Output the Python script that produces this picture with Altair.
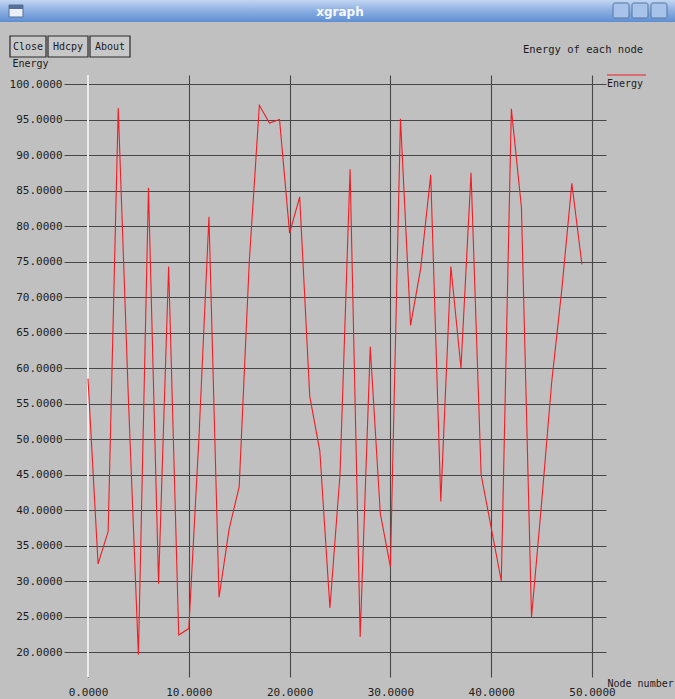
import altair as alt
import pandas as pd

# Residual energy of each node (node number 0..49)
nodes = list(range(50))
energy = [58.5, 32.4, 37.0, 96.6, 56.0, 19.6, 85.4, 29.6, 74.3, 22.4,
          23.3, 50.0, 81.3, 27.7, 37.3, 43.3, 75.0, 97.0, 94.5, 95.0,
          79.0, 84.1, 56.0, 48.3, 26.2, 45.0, 88.0, 22.1, 63.0, 39.5,
          32.0, 95.1, 66.0, 74.0, 87.2, 41.2, 74.3, 60.0, 87.5, 45.0,
          37.5, 30.0, 96.5, 82.6, 24.9, 41.0, 58.0, 71.0, 86.0, 74.6]

x_ticks = [0, 10, 20, 30, 40, 50]
y_ticks = [20, 25, 30, 35, 40, 45, 50, 55, 60, 65, 70, 75, 80, 85, 90, 95, 100]

series_name = "Energy"
chart_title = "Energy of each node"
x_title = "Node number"
y_title = "Energy"
window_title = "xgraph"
buttons = ["Close", "Hdcpy", "About"]

df = pd.DataFrame({"node": nodes, "energy": energy})
one = pd.DataFrame({"k": [0]})

MONO = "DejaVu Sans Mono"
BG = "#c0c0c0"
GRID = "#474747"
TXT = "#1c1c1c"

x_scale = alt.Scale(domain=[-2.381, 51.389], nice=False, zero=False)
y_scale = alt.Scale(domain=[16.479, 101.268], nice=False, zero=False)

x_axis = alt.Axis(values=x_ticks, format=".4f", grid=True, gridColor=GRID,
                  gridWidth=1.1, ticks=False, domain=False, labelFont=MONO,
                  labelFontSize=11, labelColor=TXT, labelPadding=9,
                  labelOverlap=False, labelFlush=False, title=x_title,
                  titleFont=MONO, titleFontSize=10, titleFontWeight="normal",
                  titleColor=TXT, titleX=543, titleY=9, titleAlign="left",
                  titleBaseline="alphabetic", titleAngle=0)
y_axis = alt.Axis(values=y_ticks, format=".4f", grid=True, gridColor=GRID,
                  gridWidth=1.1, ticks=False, domain=False, labelFont=MONO,
                  labelFontSize=11, labelColor=TXT, labelPadding=2,
                  labelOverlap=False, labelFlush=False, title=y_title,
                  titleFont=MONO, titleFontSize=10, titleFontWeight="normal",
                  titleColor=TXT, titleX=-52, titleY=-9, titleAlign="left",
                  titleBaseline="alphabetic", titleAngle=0)

# energy curve with the xgraph-style grid
line = alt.Chart(df).mark_line(color="#f21c24", strokeWidth=1.1).encode(
    x=alt.X("node:Q", scale=x_scale, axis=x_axis),
    y=alt.Y("energy:Q", scale=y_scale, axis=y_axis),
)

# highlighted zero axis
zero_line = alt.Chart(one).mark_rule(color="#ececec", strokeWidth=2).encode(
    x=alt.datum(0, scale=x_scale)
)

layers = [zero_line, line]

# window title bar
bar_fill = alt.LinearGradient(
    gradient="linear",
    stops=[alt.GradientStop(color="#c2d6f1", offset=0),
           alt.GradientStop(color="#8fb2e2", offset=0.45),
           alt.GradientStop(color="#5f8ed2", offset=1)],
    x1=0, x2=0, y1=0, y2=1)
layers.append(alt.Chart(one).mark_rect(color=bar_fill).encode(
    x=alt.value(-64), x2=alt.value(611), y=alt.value(-75), y2=alt.value(-53)))
layers.append(alt.Chart(one).mark_text(
    text=window_title, font="DejaVu Sans", fontSize=12, fontWeight="bold",
    color="#f4f8ff", align="center", baseline="middle").encode(
    x=alt.value(276), y=alt.value(-63)))
# window menu icon
layers.append(alt.Chart(one).mark_rect(color="#e9eef7", stroke="#54709a",
                                       strokeWidth=1).encode(
    x=alt.value(-55), x2=alt.value(-41), y=alt.value(-70), y2=alt.value(-58)))
layers.append(alt.Chart(one).mark_rect(color="#54709a").encode(
    x=alt.value(-55), x2=alt.value(-41), y=alt.value(-70), y2=alt.value(-66)))
# window control buttons
for left in [549, 568, 587]:
    layers.append(alt.Chart(one).mark_rect(
        color="#a8c3e9", stroke="#56779f", strokeWidth=1, cornerRadius=2).encode(
        x=alt.value(left), x2=alt.value(left + 16),
        y=alt.value(-72), y2=alt.value(-57)))

# command buttons
button_edges = [(-54, -18), (-16, 24), (26, 66)]
for label, (x0, x1) in zip(buttons, button_edges):
    layers.append(alt.Chart(one).mark_rect(
        color="#c8c8c8", stroke="#2a2a2a", strokeWidth=1.2).encode(
        x=alt.value(x0), x2=alt.value(x1), y=alt.value(-39), y2=alt.value(-18)))
    layers.append(alt.Chart(one).mark_text(
        text=label, font=MONO, fontSize=10, color=TXT, align="center",
        baseline="middle").encode(
        x=alt.value((x0 + x1) / 2), y=alt.value(-28)))

# plot title
layers.append(alt.Chart(one).mark_text(
    text=chart_title, font=MONO, fontSize=10.5, color=TXT, align="left",
    baseline="alphabetic").encode(x=alt.value(459), y=alt.value(-22)))

# legend entry
layers.append(alt.Chart(one).mark_rule(color="#f21c24", strokeWidth=1.2).encode(
    x=alt.value(543), x2=alt.value(582), y=alt.value(0)))
layers.append(alt.Chart(one).mark_text(
    text=series_name, font=MONO, fontSize=10, color=TXT, align="left",
    baseline="alphabetic").encode(x=alt.value(543), y=alt.value(12)))

chart = alt.layer(*layers).properties(
    width=542, height=602,
    padding={"left": 64, "top": 75, "right": 69, "bottom": 22},
    autosize="none",
    background=BG,
).configure_view(strokeWidth=0, fill=BG)

chart.save("out.html", embed_options={"renderer": "svg", "actions": False})
